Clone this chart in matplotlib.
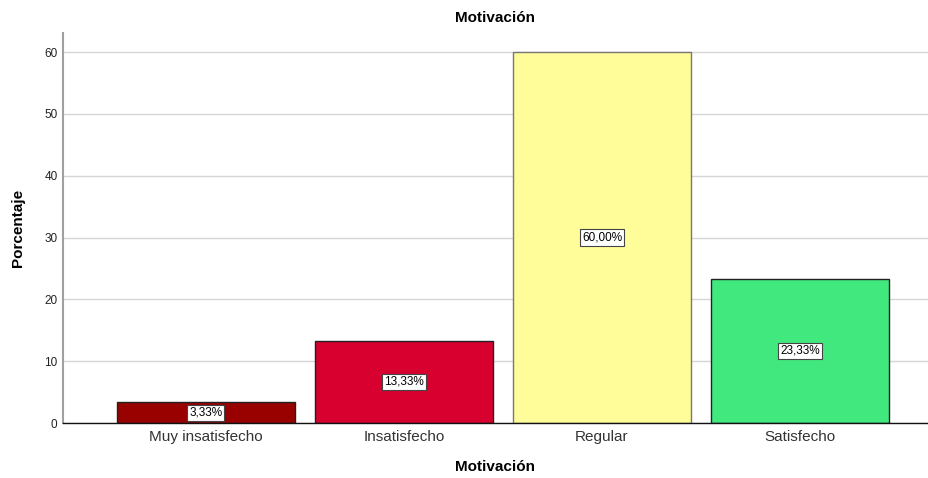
import matplotlib
matplotlib.use("Agg")
import matplotlib.pyplot as plt

plt.rcParams['font.family'] = ['Liberation Sans', 'DejaVu Sans']

categories = ["Muy insatisfecho", "Insatisfecho", "Regular", "Satisfecho"]
percentages = [3.33, 13.33, 60.00, 23.33]
bar_colors = ["#990000", "#D8002F", "#FFFD99", "#41E87E"]
edge_colors = ["#222222", "#222222", "#777777", "#222222"]
y_ticks = [0, 10, 20, 30, 40, 50, 60]

fig = plt.figure(figsize=(9.29, 4.78), dpi=100)
ax = fig.add_axes([63 / 929, 1 - 423 / 478, (929 - 63) / 929, (423 - 33) / 478])

x = list(range(len(categories)))
ax.bar(x, percentages, width=0.9, color=bar_colors, edgecolor=edge_colors,
       linewidth=1.0, zorder=3)

for xi, v in zip(x, percentages):
    ax.text(xi, v / 2, f"{v:.2f}".replace(".", ",") + "%", ha="center", va="center",
            fontsize=8.5, color="black", zorder=4,
            bbox=dict(boxstyle="square,pad=0.18", facecolor="white",
                      edgecolor="#444444", linewidth=0.8))

ax.set_xlim(-0.72, 3.65)
ax.set_ylim(0, 63.1)
ax.set_yticks(y_ticks)
ax.set_yticklabels([str(t) for t in y_ticks], fontsize=8.5, color="#222222")
ax.set_xticks(x)
ax.set_xticklabels(categories, fontsize=11, color="#333333")
ax.tick_params(axis="both", length=0, pad=4)
ax.tick_params(axis="x", pad=5)

ax.grid(axis="y", color="#D6D6D6", linewidth=1.0, zorder=0)
ax.set_axisbelow(True)

for side in ["top", "right"]:
    ax.spines[side].set_visible(False)
ax.spines["left"].set_color("#A0A0A0")
ax.spines["left"].set_linewidth(1.5)
ax.spines["bottom"].set_color("#111111")
ax.spines["bottom"].set_linewidth(1.0)
ax.spines["bottom"].set_zorder(5)

fig.text(495 / 929, 1 - 18 / 478, "Motivación", ha="center", va="center",
         fontsize=11, fontweight="bold")
fig.text(495 / 929, 1 - 467 / 478, "Motivación", ha="center", va="center",
         fontsize=11, fontweight="bold")
fig.text(18 / 929, 1 - 228 / 478, "Porcentaje", ha="center", va="center",
         rotation=90, fontsize=11, fontweight="bold")

fig.savefig("out.png", dpi=100)
